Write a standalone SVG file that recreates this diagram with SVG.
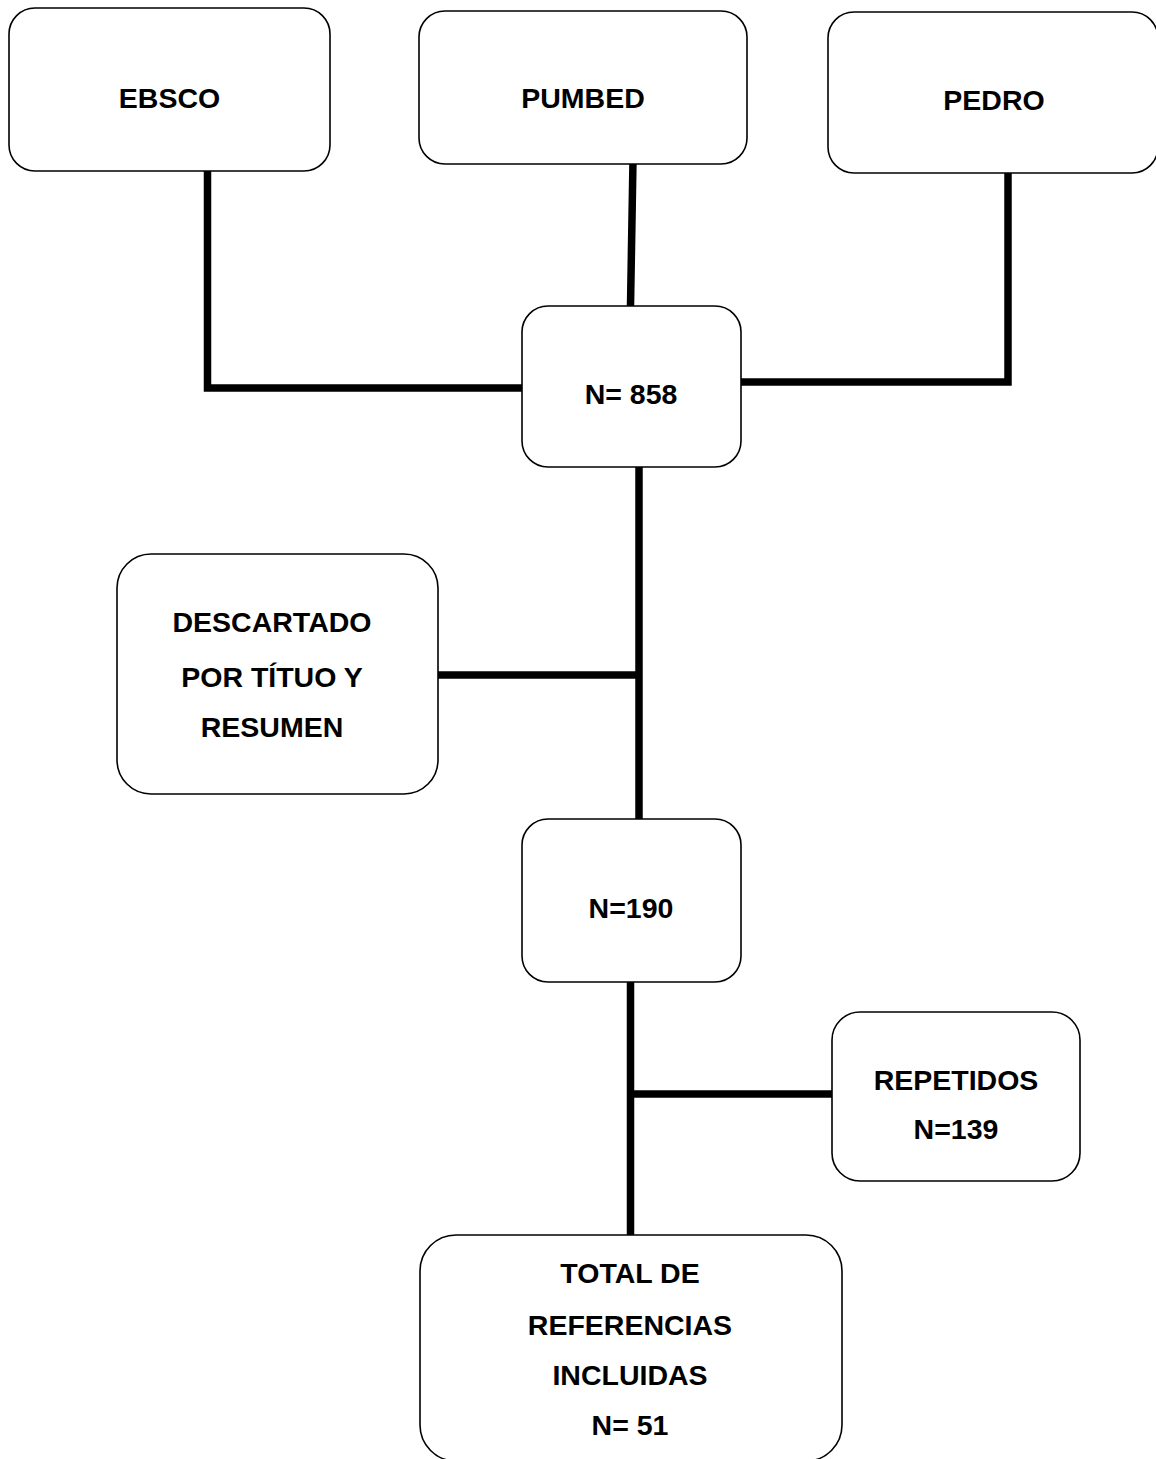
<svg xmlns="http://www.w3.org/2000/svg" width="1156" height="1459" viewBox="0 0 1156 1459">
<style>
.box{fill:#fff;stroke:#000;stroke-width:1.6}
.lbl{font-family:"Liberation Sans",Arial,sans-serif;font-weight:bold;font-size:28.5px;fill:#000;text-anchor:middle}
.con{fill:none;stroke:#000;stroke-width:7.5;stroke-linecap:butt;stroke-linejoin:miter}
</style>
<rect width="1156" height="1459" fill="#fff"/>
<g id="connectors">
<path class="con" d="M207.5 171 V388 H523"/>
<path class="con" d="M633 160 L630.5 306"/>
<path class="con" d="M1008 173 V382 H741"/>
<path class="con" d="M639 467 V820"/>
<path class="con" d="M438 675 H639"/>
<path class="con" d="M630.5 982 V1235"/>
<path class="con" d="M630.5 1094 H832"/>
</g>
<g id="ebsco"><rect class="box" x="9" y="8" width="321" height="163" rx="26"/><text class="lbl" x="169.5" y="108">EBSCO</text></g>
<g id="pumbed"><rect class="box" x="419" y="11" width="328" height="153" rx="26"/><text class="lbl" x="583" y="108">PUMBED</text></g>
<g id="pedro"><rect class="box" x="828" y="12" width="330" height="161" rx="26"/><text class="lbl" x="994" y="110">PEDRO</text></g>
<g id="n858"><rect class="box" x="522" y="306" width="219" height="161" rx="26"/><text class="lbl" x="631" y="404">N= 858</text></g>
<g id="descartado"><rect class="box" x="117" y="554" width="321" height="240" rx="34"/><text class="lbl" x="272" y="632">DESCARTADO</text><text class="lbl" x="272" y="687">POR TÍTUO Y</text><text class="lbl" x="272" y="737">RESUMEN</text></g>
<g id="n190"><rect class="box" x="522" y="819" width="219" height="163" rx="26"/><text class="lbl" x="631" y="918">N=190</text></g>
<g id="repetidos"><rect class="box" x="832" y="1012" width="248" height="169" rx="28"/><text class="lbl" x="956" y="1090">REPETIDOS</text><text class="lbl" x="956" y="1139">N=139</text></g>
<g id="total"><rect class="box" x="420" y="1235" width="422" height="226" rx="36"/><text class="lbl" x="630" y="1283">TOTAL DE</text><text class="lbl" x="630" y="1335">REFERENCIAS</text><text class="lbl" x="630" y="1385">INCLUIDAS</text><text class="lbl" x="630" y="1435">N= 51</text></g>
</svg>
